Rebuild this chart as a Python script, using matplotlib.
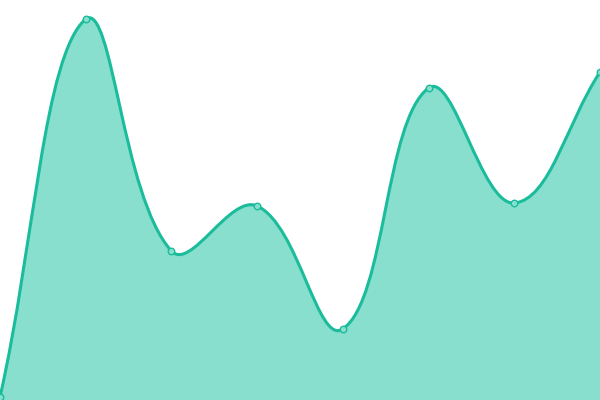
import matplotlib
matplotlib.use("Agg")
import matplotlib.pyplot as plt
from matplotlib.path import Path
from matplotlib.patches import PathPatch
import numpy as np

categories = list(range(8))
values = [3, 381, 149, 194, 71, 312, 197, 328]

LINE = "#1abc9c"
FILL = "#88dfce"

W, H = 600, 400
fig = plt.figure(figsize=(6, 4), dpi=100)
ax = fig.add_axes([0, 0, 1, 1])
ax.set_xlim(0, len(categories) - 1)
ax.set_ylim(0, 400)
ax.axis("off")

# Chart.js-style spline (tension 0.4), computed in pixel space
x = np.array(categories, dtype=float)
y = np.array(values, dtype=float)
sx = W / (len(categories) - 1)
px = x * sx
py = y
t = 0.4
n = len(px)
cp_prev = []
cp_next = []
for i in range(n):
    p0 = (px[max(i - 1, 0)], py[max(i - 1, 0)])
    p1 = (px[i], py[i])
    p2 = (px[min(i + 1, n - 1)], py[min(i + 1, n - 1)])
    d01 = np.hypot(p1[0] - p0[0], p1[1] - p0[1])
    d12 = np.hypot(p2[0] - p1[0], p2[1] - p1[1])
    tot = d01 + d12
    s01 = d01 / tot if tot else 0
    s12 = d12 / tot if tot else 0
    fa = t * s01
    fb = t * s12
    cp_prev.append((p1[0] - fa * (p2[0] - p0[0]), p1[1] - fa * (p2[1] - p0[1])))
    cp_next.append((p1[0] + fb * (p2[0] - p0[0]), p1[1] + fb * (p2[1] - p0[1])))

def cap(pt):
    return (min(max(pt[0], 0), W) / sx, min(max(pt[1], 0), 400))

verts = [(x[0], y[0])]
codes = [Path.MOVETO]
for i in range(n - 1):
    verts += [cap(cp_next[i]), cap(cp_prev[i + 1]), (x[i + 1], y[i + 1])]
    codes += [Path.CURVE4] * 3

fill_verts = verts + [(x[-1], 0), (x[0], 0), (x[0], y[0])]
fill_codes = codes + [Path.LINETO, Path.LINETO, Path.CLOSEPOLY]
ax.add_patch(PathPatch(Path(fill_verts, fill_codes), facecolor=FILL, edgecolor="none", zorder=1))
ax.add_patch(PathPatch(Path(verts, codes), facecolor="none", edgecolor=LINE, linewidth=2.2, zorder=2))
ax.scatter(x, y, s=22, facecolor=FILL, edgecolor=LINE, linewidth=1, zorder=3, clip_on=False)

fig.savefig("out.png", dpi=100)
